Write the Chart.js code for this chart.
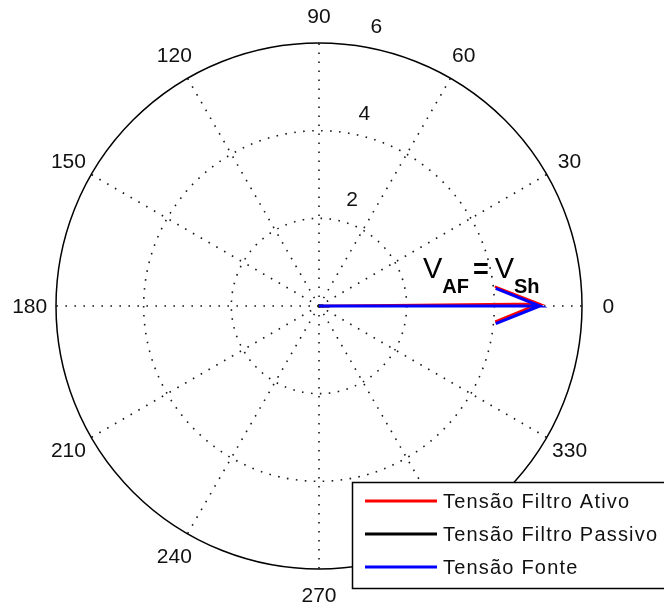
<!DOCTYPE html>
<html>
<head>
<meta charset="utf-8">
<script src="https://cdn.jsdelivr.net/npm/chart.js@4.4.1/dist/chart.umd.min.js"></script>
<style>
  html, body { margin: 0; padding: 0; background: #fff; }
  canvas { display: block; }
</style>
</head>
<body>
<canvas id="compass" width="664" height="612"></canvas>
<script>
// Phasor data (magnitude, phase in degrees) for each voltage
const seriesNames = ['Tensão Filtro Ativo', 'Tensão Filtro Passivo', 'Tensão Fonte'];
const seriesColors = ['#ff0000', '#000000', '#0000ff'];
const magnitudes = [5.02, 0.08, 5.04];
const phasesDeg = [0.6, 0, 0];

// Polar grid ticks
const angleTicks = [0, 30, 60, 90, 120, 150, 180, 210, 240, 270, 300, 330];
const radialTicks = [2, 4, 6];
const rMax = 6;

// Annotation position (data units)
const noteX = 2.37;
const noteY = 0.64;

const FONT = '"Liberation Sans", Arial, sans-serif';

// Compass-style arrow: origin -> tip, with barbs at 0.8 of length, +/-0.08 sideways
function compassArrow(m, deg) {
  const a = deg * Math.PI / 180;
  const zx = m * Math.cos(a), zy = m * Math.sin(a);
  return [
    { x: 0, y: 0 },
    { x: zx, y: zy },
    { x: 0.8 * zx - 0.08 * zy, y: 0.8 * zy + 0.08 * zx },
    { x: zx, y: zy },
    { x: 0.8 * zx + 0.08 * zy, y: 0.8 * zy - 0.08 * zx }
  ];
}

const datasets = seriesNames.map((name, i) => ({
  label: name,
  data: compassArrow(magnitudes[i], phasesDeg[i]),
  showLine: true,
  borderColor: seriesColors[i],
  backgroundColor: seriesColors[i],
  borderWidth: i === 0 ? 2.5 : 3,
  pointRadius: 0,
  tension: 0,
  borderJoinStyle: 'miter',
  borderCapStyle: 'butt',
  clip: false,
  order: seriesNames.length - i
}));

const polarGrid = {
  id: 'polarGrid',
  beforeDatasetsDraw(chart) {
    const { ctx, scales: { x, y } } = chart;
    const cx = x.getPixelForValue(0), cy = y.getPixelForValue(0);
    const rad = r => x.getPixelForValue(r) - cx;
    ctx.save();
    ctx.strokeStyle = '#1a1a1a';
    ctx.lineWidth = 1.6;
    ctx.lineCap = 'butt';
    ctx.setLineDash([1.6, 7.4]);
    // spokes
    angleTicks.forEach(a => {
      const t = a * Math.PI / 180;
      ctx.beginPath();
      ctx.moveTo(cx, cy);
      ctx.lineTo(x.getPixelForValue(rMax * Math.cos(t)), y.getPixelForValue(rMax * Math.sin(t)));
      ctx.stroke();
    });
    // inner rings
    radialTicks.filter(r => r < rMax).forEach(r => {
      ctx.beginPath();
      ctx.arc(cx, cy, rad(r), 0, Math.PI * 2);
      ctx.stroke();
    });
    // outer ring
    ctx.setLineDash([]);
    ctx.strokeStyle = '#000';
    ctx.lineWidth = 1.5;
    ctx.beginPath();
    ctx.arc(cx, cy, rad(rMax), 0, Math.PI * 2);
    ctx.stroke();

    ctx.fillStyle = '#111';
    ctx.font = '21px ' + FONT;
    // angle labels
    ctx.textAlign = 'center';
    ctx.textBaseline = 'middle';
    angleTicks.forEach(a => {
      const t = a * Math.PI / 180;
      ctx.fillText(String(a),
        x.getPixelForValue(1.1 * rMax * Math.cos(t)),
        y.getPixelForValue(1.1 * rMax * Math.sin(t)) + 1);
    });
    // radial labels along 82 degrees
    ctx.textAlign = 'left';
    ctx.textBaseline = 'bottom';
    const t82 = 82 * Math.PI / 180;
    radialTicks.forEach(r => {
      ctx.fillText(String(r),
        x.getPixelForValue(r * Math.cos(t82)) + 15,
        y.getPixelForValue(r * Math.sin(t82)) - 8);
    });
    ctx.restore();
  },
  afterDraw(chart) {
    const { ctx, scales: { x, y } } = chart;
    ctx.save();
    // V_AF = V_Sh annotation
    let px = x.getPixelForValue(noteX);
    const py = y.getPixelForValue(noteY);
    ctx.fillStyle = '#000';
    ctx.textAlign = 'left';
    ctx.textBaseline = 'alphabetic';
    const big = '29px ' + FONT, sub = 'bold 20px ' + FONT, eq = 'bold 27px ' + FONT;
    const parts = [['V', big, 0, 0], ['AF', sub, 15, 4], ['=', eq, 0, 6], ['V', big, 0, 0], ['Sh', sub, 15, 0]];
    parts.forEach(([s, f, dy, gap]) => {
      ctx.font = f;
      ctx.fillText(s, px, py + dy);
      px += ctx.measureText(s).width + gap;
    });

    // legend box
    const lx = 352.5, ly = 482.5;
    ctx.fillStyle = '#fff';
    ctx.fillRect(lx, ly, 330, 106);
    ctx.strokeStyle = '#000';
    ctx.lineWidth = 1.5;
    ctx.strokeRect(lx, ly, 330, 106);
    ctx.font = '20px ' + FONT;
    ctx.letterSpacing = '1.2px';
    ctx.textBaseline = 'middle';
    seriesNames.forEach((name, i) => {
      const rowY = 501 + i * 33;
      ctx.strokeStyle = seriesColors[i];
      ctx.lineWidth = 3;
      ctx.beginPath();
      ctx.moveTo(365, rowY);
      ctx.lineTo(437, rowY);
      ctx.stroke();
      ctx.fillStyle = '#111';
      ctx.fillText(name, 443, rowY + 1);
    });
    ctx.restore();
  }
};

new Chart(document.getElementById('compass'), {
  type: 'scatter',
  data: { datasets },
  options: {
    responsive: false,
    devicePixelRatio: 1,
    animation: false,
    layout: { padding: { left: 56, right: 82, top: 43, bottom: 43 } },
    scales: {
      x: { type: 'linear', min: -rMax, max: rMax, display: false },
      y: { type: 'linear', min: -rMax, max: rMax, display: false }
    },
    plugins: { legend: { display: false }, tooltip: { enabled: false } }
  },
  plugins: [polarGrid]
});
</script>
</body>
</html>
